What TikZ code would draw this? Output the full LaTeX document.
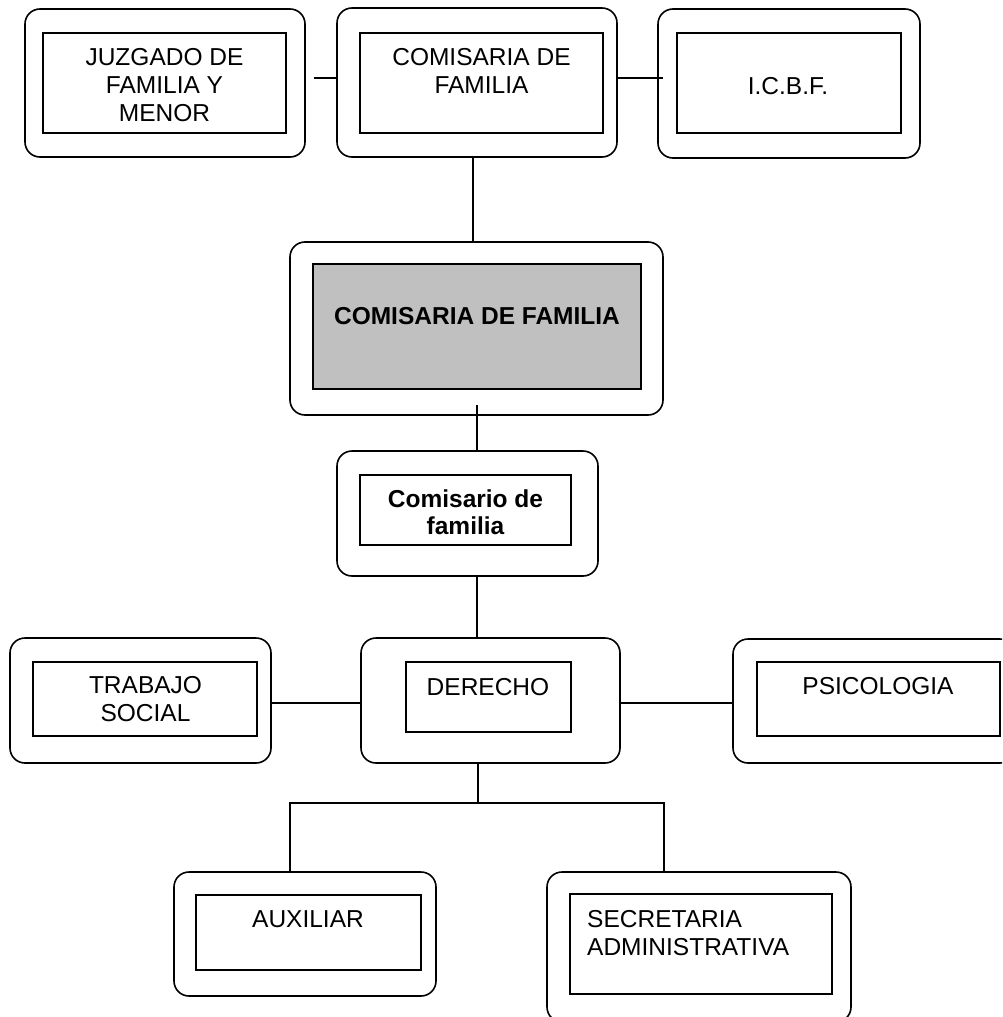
\documentclass[tikz,border=0pt]{standalone}
\usepackage{fontspec}
\setmainfont{Liberation Sans}
\usetikzlibrary{calc}
\definecolor{boxgray}{HTML}{C0C0C0}
\begin{document}
\begin{tikzpicture}[x=1pt,y=-1pt,
  outerbox/.style={draw,rounded corners=15pt,line width=1.6pt,inner sep=0pt,minimum width=#1},
  innerbox/.style={draw,line width=1.6pt,inner sep=0pt,minimum width=#1},
  lbl/.style={inner sep=0pt,anchor=north,align=center,font=\fontsize{24.5}{28}\selectfont},
  lblb/.style={inner sep=0pt,anchor=north,align=center,font=\fontsize{24.5}{26.5}\selectfont\bfseries},
  conn/.style={line width=1.6pt}]
\clip[use as bounding box] (0,0) rectangle (1002,1017);
\fill[white] (0,0) rectangle (1002,1017);
% top row
\node[outerbox=280pt,minimum height=148pt] (jo) at (165,83) {};
\node[innerbox=243pt,minimum height=100pt] (ji) at (164.5,83) {};
\node[lbl] (jt) at (164.5,48) {JUZGADO DE\\FAMILIA Y\\MENOR};
\node[outerbox=280pt,minimum height=149pt] (co) at (477,82.5) {};
\node[innerbox=243pt,minimum height=100pt] (ci) at (481.5,83) {};
\node[lbl] (ct) at (481.5,48) {COMISARIA DE\\FAMILIA};
\node[outerbox=262pt,minimum height=149pt] (io) at (789,83.5) {};
\node[innerbox=224pt,minimum height=100pt] (ii) at (789,83) {};
\node[lbl] (it) at (788,77.5) {I.C.B.F.};
% main
\node[outerbox=373pt,minimum height=173pt] (mo) at (476.5,328.5) {};
\node[innerbox=328pt,minimum height=125pt,fill=boxgray] (mi) at (477,326.5) {};
\node[lblb] (mt) at (477,307.5) {COMISARIA DE FAMILIA};
% comisario
\node[outerbox=261pt,minimum height=125pt] (so) at (467.5,513.5) {};
\node[innerbox=211pt,minimum height=70pt] (si) at (465.5,510) {};
\node[lblb] (st) at (465.5,490) {Comisario de\\familia};
% middle row
\node[outerbox=261pt,minimum height=125pt] (to) at (140.5,700.5) {};
\node[innerbox=224pt,minimum height=74pt] (ti) at (145,699) {};
\node[lbl] (tt) at (145.5,676) {TRABAJO\\SOCIAL};
\node[outerbox=259pt,minimum height=125pt] (do) at (490.5,700.5) {};
\node[innerbox=165pt,minimum height=70pt] (di) at (488.5,697) {};
\node[lbl] (dt) at (488,678) {DERECHO};
\node[outerbox=282pt,minimum height=124pt] (po) at (874,701) {};
\node[innerbox=243pt,minimum height=74pt] (pi) at (878.5,699) {};
\node[lbl] (pt) at (878,677) {PSICOLOGIA};
% bottom row
\node[outerbox=262pt,minimum height=124pt] (ao) at (305,934) {};
\node[innerbox=225pt,minimum height=75pt] (ai) at (308.5,932.5) {};
\node[lbl] (at) at (308,910) {AUXILIAR};
\node[outerbox=304pt,minimum height=150pt] (eo) at (699,947) {};
\node[innerbox=262pt,minimum height=100pt] (ei) at (701,944) {};
\node[lbl,align=left,anchor=north west] (et) at (587,910) {SECRETARIA\\ADMINISTRATIVA};
% connectors
\draw[conn] ([shift={(8,-5)}]jo.east) -- ([shift={(0,-4.5)}]co.west);
\draw[conn] ([shift={(0,-4.5)}]co.east) -- ([shift={(6,-5.5)}]io.west);
\draw[conn] ([shift={(-4,0)}]co.south) -- ([shift={(-3.5,0)}]mo.north);
\draw[conn] ([shift={(0.5,-11)}]mo.south) -- ([shift={(9.5,0)}]so.north);
\draw[conn] ([shift={(9.5,0)}]so.south) -- ([shift={(-13.5,0)}]do.north);
\draw[conn] ([shift={(0,2.5)}]to.east) -- ([shift={(0,2.5)}]do.west);
\draw[conn] ([shift={(0,2.5)}]do.east) -- ([shift={(0,2)}]po.west);
\coordinate (br) at ([shift={(-12.5,39)}]do.south);
\coordinate (al) at ([shift={(-15,0)}]ao.north);
\coordinate (el) at ([shift={(-35,0)}]eo.north);
\draw[conn] ([shift={(-12.5,0)}]do.south) -- (br);
\draw[conn] (al) -- (al |- br) -- (el |- br) -- (el);
\end{tikzpicture}
\end{document}
